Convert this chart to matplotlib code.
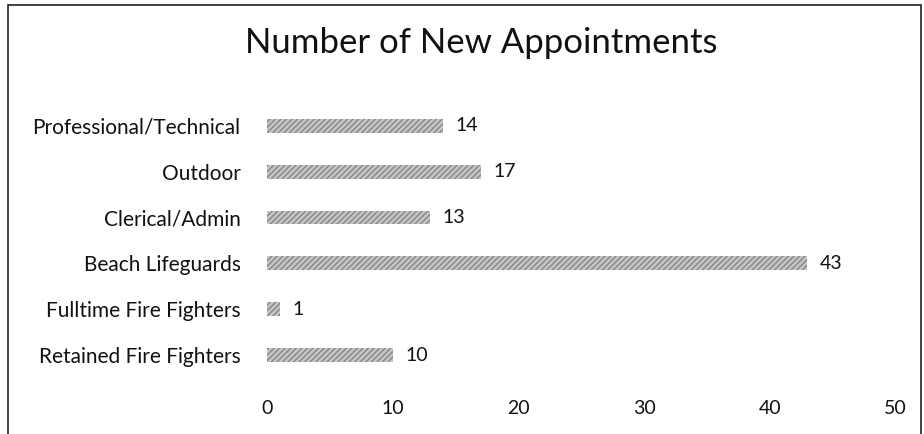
import matplotlib.pyplot as plt
from matplotlib.patches import Rectangle

plt.rcParams['font.family'] = ['Lato', 'DejaVu Sans']
plt.rcParams['hatch.linewidth'] = 0.8

categories = ['Professional/Technical', 'Outdoor', 'Clerical/Admin', 'Beach Lifeguards',
              'Fulltime Fire Fighters', 'Retained Fire Fighters']
values = [14, 17, 13, 43, 1, 10]
xticks = [0, 10, 20, 30, 40, 50]

fig = plt.figure(figsize=(9.24, 4.34), dpi=100)
ax = fig.add_axes([0.289, 0.129, 0.680, 0.634])

pos = list(range(len(categories)))[::-1]
bars = ax.barh(pos, values, height=0.3, color='#c4c4c4', edgecolor='#7a7a7a',
               hatch='//////', linewidth=0)

# value labels to the right of each bar
for b, v in zip(bars, values):
    ax.text(b.get_width() + 1.0, b.get_y() + b.get_height() / 2, str(v),
            va='center', ha='left', fontsize=14, color='#111111')

ax.set_xlim(0, 50)
ax.set_ylim(-0.5, len(categories) - 0.5)
ax.set_yticks(pos)
ax.set_yticklabels(categories, fontsize=15, color='#111111')
ax.set_xticks(xticks)
ax.set_xticklabels([str(t) for t in xticks], fontsize=14, color='#111111')
ax.tick_params(length=0, pad=19, axis='y')
ax.tick_params(length=0, pad=16, axis='x')
for s in ax.spines.values():
    s.set_visible(False)

fig.text(0.521, 0.90, 'Number of New Appointments', ha='center', va='center',
         fontsize=25, color='#111111')

# scanned chart border
fig.add_artist(Rectangle((0.009, -0.01), 0.988, 0.998, transform=fig.transFigure,
                         fill=False, edgecolor='#222222', linewidth=1.2))

fig.savefig('out.png', dpi=100)
